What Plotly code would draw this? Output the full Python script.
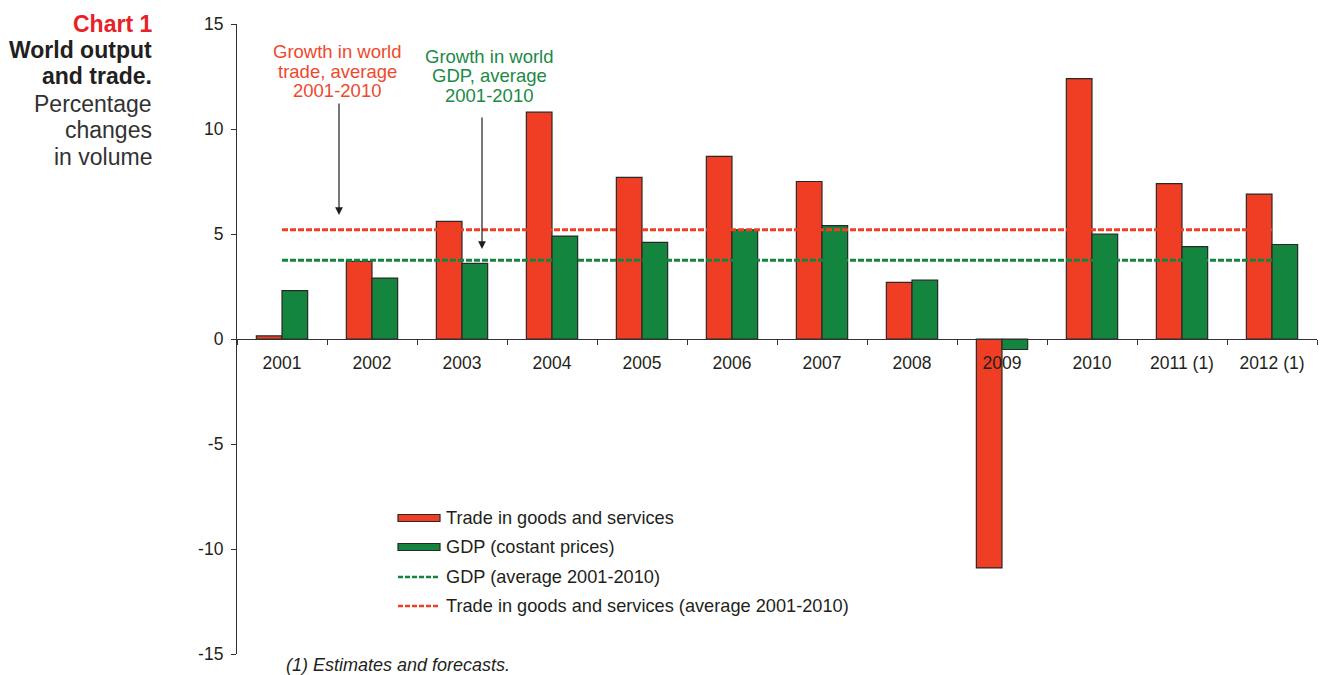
import plotly.graph_objects as go

# ---- data -------------------------------------------------------------
years = ["2001", "2002", "2003", "2004", "2005", "2006",
         "2007", "2008", "2009", "2010", "2011 (1)", "2012 (1)"]
trade_growth = [0.15, 3.7, 5.6, 10.8, 7.7, 8.7, 7.5, 2.7, -10.9, 12.4, 7.4, 6.9]
gdp_growth = [2.3, 2.9, 3.6, 4.9, 4.6, 5.2, 5.4, 2.8, -0.5, 5.0, 4.4, 4.5]
trade_avg = 5.2
gdp_avg = 3.75
y_ticks = [-15, -10, -5, 0, 5, 10, 15]
y_tick_labels = ["-15", "-10", "-5", "0", "5", "10", "15"]

# ---- styling ----------------------------------------------------------
RED = "rgb(239,62,35)"
GREEN = "rgb(19,133,63)"
OUTLINE = "rgb(40,40,40)"
INK = "rgb(35,31,32)"
FONT = "Liberation Sans, Arial, sans-serif"

W, H = 1328, 675
L, R, T, B = 237, 1317, 24, 654  # plot area in pixels


def px(x):
    return (x - L) / (R - L)


def py(y):
    return (B - y) / (B - T)


fig = go.Figure()

fig.add_trace(go.Bar(
    x=years, y=trade_growth, name="Trade in goods and services",
    marker=dict(color=RED, line=dict(color=OUTLINE, width=1.2)),
    showlegend=False,
))
fig.add_trace(go.Bar(
    x=years, y=gdp_growth, name="GDP (costant prices)",
    marker=dict(color=GREEN, line=dict(color=OUTLINE, width=1.2)),
    showlegend=False,
))
fig.add_trace(go.Scatter(
    x=years, y=[trade_avg] * len(years), mode="lines",
    name="Trade in goods and services (average 2001-2010)",
    line=dict(color=RED, width=3, dash="6px,2px"), showlegend=False,
))
fig.add_trace(go.Scatter(
    x=years, y=[gdp_avg] * len(years), mode="lines",
    name="GDP (average 2001-2010)",
    line=dict(color=GREEN, width=3, dash="6px,2px"), showlegend=False,
))

annotations = []
shapes = []

# side title block, right aligned
title_lines = [
    ("<b>Chart 1</b>", "rgb(232,33,39)", 24),
    ("<b>World output</b>", INK, 50),
    ("<b>and trade.</b>", INK, 76),
    ("Percentage", "rgb(50,50,50)", 104),
    ("changes", "rgb(50,50,50)", 130),
    ("in volume", "rgb(50,50,50)", 157),
]
for text, color, ypix in title_lines:
    annotations.append(dict(
        text=text, x=px(154), y=py(ypix), xref="paper", yref="paper",
        xanchor="right", yanchor="middle", showarrow=False,
        font=dict(family=FONT, size=23, color=color),
    ))

# callout texts above the average lines
for i, line in enumerate(["Growth in world", "trade, average", "2001-2010"]):
    annotations.append(dict(
        text=line, x=px(337), y=py(52 + 19.5 * i), xref="paper", yref="paper",
        xanchor="center", yanchor="middle", showarrow=False,
        font=dict(family=FONT, size=18.5, color="rgb(239,72,45)"),
    ))
for i, line in enumerate(["Growth in world", "GDP, average", "2001-2010"]):
    annotations.append(dict(
        text=line, x=px(489), y=py(56 + 19.5 * i), xref="paper", yref="paper",
        xanchor="center", yanchor="middle", showarrow=False,
        font=dict(family=FONT, size=18.5, color="rgb(26,138,70)"),
    ))

# arrows pointing at the average lines
for xpix, tip, tail in [(339, 215, 102), (482, 249, 116)]:
    annotations.append(dict(
        text="", x=px(xpix), y=py(tip), xref="paper", yref="paper",
        ax=0, ay=tail - tip, axref="pixel", ayref="pixel",
        showarrow=True, arrowhead=2, arrowsize=1.3, arrowwidth=1.2,
        arrowcolor="rgb(30,30,30)",
    ))

# legend drawn inside the plot
legend_rows = [
    ("Trade in goods and services", "bar", RED, 518),
    ("GDP (costant prices)", "bar", GREEN, 547),
    ("GDP (average 2001-2010)", "dash", GREEN, 577),
    ("Trade in goods and services (average 2001-2010)", "dash", RED, 606),
]
for text, kind, color, ypix in legend_rows:
    if kind == "bar":
        shapes.append(dict(
            type="rect", xref="paper", yref="paper",
            x0=px(398), x1=px(440), y0=py(ypix + 3.5), y1=py(ypix - 3.5),
            fillcolor=color, line=dict(color=OUTLINE, width=1.2),
        ))
    else:
        shapes.append(dict(
            type="line", xref="paper", yref="paper",
            x0=px(398), x1=px(438), y0=py(ypix), y1=py(ypix),
            line=dict(color=color, width=2.5, dash="5px,2px"),
        ))
    annotations.append(dict(
        text=text, x=px(444), y=py(ypix), xref="paper", yref="paper",
        xanchor="left", yanchor="middle", showarrow=False,
        font=dict(family=FONT, size=18.2, color=INK),
    ))

# footnote
annotations.append(dict(
    text="<i>(1) Estimates and forecasts.</i>", x=px(284), y=py(665),
    xref="paper", yref="paper", xanchor="left", yanchor="middle",
    showarrow=False, font=dict(family=FONT, size=18, color=INK),
))

fig.update_layout(
    width=W, height=H,
    margin=dict(l=L, r=W - R, t=T, b=H - B, pad=0),
    paper_bgcolor="white", plot_bgcolor="white",
    barmode="group", bargap=0.43, bargroupgap=0,
    showlegend=False,
    font=dict(family=FONT, size=17, color=INK),
    annotations=annotations, shapes=shapes,
    xaxis=dict(
        type="category", anchor="free", position=0.5,
        showline=True, linecolor="rgb(50,50,50)", linewidth=1.2,
        ticks="outside", tickson="boundaries", ticklen=5,
        tickcolor="rgb(50,50,50)", tickwidth=1, ticklabelstandoff=8,
        showgrid=False, zeroline=False,
        tickfont=dict(family=FONT, size=17.5, color=INK),
    ),
    yaxis=dict(
        range=[-15, 15], tickvals=y_ticks, ticktext=y_tick_labels,
        showline=True, linecolor="rgb(50,50,50)", linewidth=1.2,
        ticks="outside", ticklen=5, tickcolor="rgb(50,50,50)",
        ticklabelstandoff=4,
        showgrid=False, zeroline=False,
        tickfont=dict(family=FONT, size=17.5, color=INK),
    ),
)

fig.write_html("out.html")
